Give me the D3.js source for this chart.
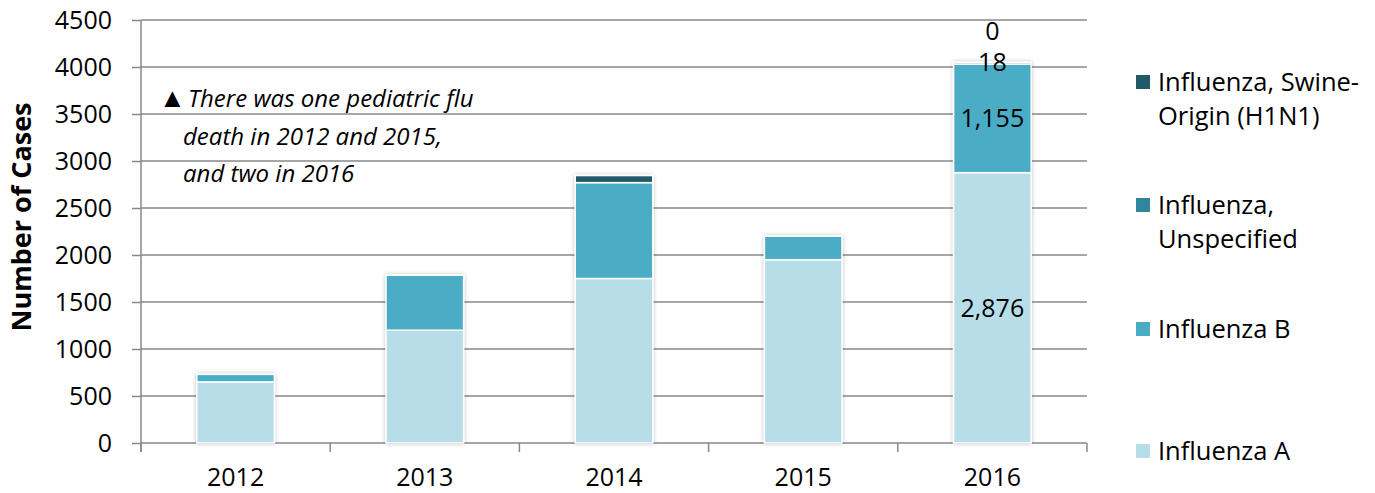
<!DOCTYPE html>
<html>
<head>
<meta charset="utf-8">
<script src="https://cdn.jsdelivr.net/npm/d3@7"></script>
<style>
  body { margin: 0; background: #fff; }
  svg { display: block; font-family: "Open Sans", sans-serif; }
</style>
</head>
<body>
<svg id="chart" width="1375" height="493"></svg>
<script>
const years = ["2012", "2013", "2014", "2015", "2016"];
const influenzaA = [650, 1200, 1750, 1950, 2876];
const influenzaB = [80, 585, 1020, 250, 1155];
const unspecified = [0, 0, 0, 0, 18];
const swineH1N1 = [0, 0, 75, 0, 0];
const yTicks = [0, 500, 1000, 1500, 2000, 2500, 3000, 3500, 4000, 4500];

const seriesNames = ["Influenza A", "Influenza B", "Influenza, Unspecified", "Influenza, Swine-Origin (H1N1)"];
const seriesColors = ["#b7dee8", "#4bacc6", "#31859c", "#215968"];
const seriesValues = [influenzaA, influenzaB, unspecified, swineH1N1];

const rows = years.map((yr, i) => {
  const r = {year: yr};
  seriesNames.forEach((n, k) => r[n] = seriesValues[k][i]);
  return r;
});

const svg = d3.select("#chart");
const plotLeft = 141, plotRight = 1087, plotTop = 20, plotBottom = 443;

const x = d3.scaleBand().domain(years).range([plotLeft, plotRight]).paddingInner(0.59).paddingOuter(0.295);
const y = d3.scaleLinear().domain([0, 4500]).range([plotBottom, plotTop]);

const defs = svg.append("defs");
defs.append("filter").attr("id", "shadow")
  .attr("x", "-20%").attr("y", "-20%").attr("width", "140%").attr("height", "140%")
  .append("feDropShadow")
  .attr("dx", 0).attr("dy", 0).attr("stdDeviation", 2)
  .attr("flood-color", "#000").attr("flood-opacity", 0.25);

// gridlines
svg.append("g")
  .selectAll("line")
  .data(yTicks.filter(d => d > 0))
  .join("line")
  .attr("x1", plotLeft).attr("x2", plotRight)
  .attr("y1", d => y(d)).attr("y2", d => y(d))
  .attr("stroke", "#888").attr("stroke-width", 1.5);

// y axis
const yAxis = svg.append("g")
  .attr("transform", `translate(${plotLeft},0)`)
  .call(d3.axisLeft(y).tickValues(yTicks).tickFormat(d3.format("d")).tickSize(9).tickPadding(20));
yAxis.select(".domain").attr("stroke", "#888").attr("stroke-width", 1.5).attr("d", `M0,${plotTop}V${plotBottom + 9}`);
yAxis.selectAll(".tick line").attr("stroke", "#888").attr("stroke-width", 1.5);
yAxis.selectAll(".tick text").attr("font-size", 25).attr("fill", "#000")
  .attr("font-family", "Open Sans, sans-serif");

// x axis
const xAxis = svg.append("g").attr("transform", `translate(0,${plotBottom})`);
xAxis.append("line").attr("x1", plotLeft).attr("x2", plotRight).attr("y1", 0).attr("y2", 0)
  .attr("stroke", "#888").attr("stroke-width", 1.5);
const boundaries = d3.range(years.length + 1).map(i => plotLeft + i * x.step());
xAxis.selectAll("line.tk").data(boundaries).join("line").attr("class", "tk")
  .attr("x1", d => d).attr("x2", d => d).attr("y1", 0).attr("y2", 9)
  .attr("stroke", "#888").attr("stroke-width", 1.5);
xAxis.selectAll("text").data(years).join("text")
  .attr("x", d => x(d) + x.bandwidth() / 2)
  .attr("y", 43)
  .attr("text-anchor", "middle")
  .attr("font-size", 25)
  .text(d => d);

// bars
const stack = d3.stack().keys(seriesNames)(rows);
const layers = svg.append("g").attr("filter", "url(#shadow)")
  .selectAll("g")
  .data(stack)
  .join("g")
  .attr("fill", (d, i) => seriesColors[i]);
layers.selectAll("rect")
  .data(d => d.filter(s => s[1] - s[0] > 0))
  .join("rect")
  .attr("x", d => x(d.data.year))
  .attr("width", x.bandwidth())
  .attr("y", d => y(d[1]))
  .attr("height", d => y(d[0]) - y(d[1]))
  .attr("stroke", "#fff").attr("stroke-width", 1.5);

// data labels for 2016
const last = years.length - 1;
const cx = x(years[last]) + x.bandwidth() / 2;
const fmt = d3.format(",");
const labels = svg.append("g").attr("font-size", 25).attr("text-anchor", "middle");
labels.append("text").attr("x", cx).attr("y", y(1430)).attr("dy", "0.35em").text(fmt(influenzaA[last]));
labels.append("text").attr("x", cx).attr("y", y(influenzaA[last] + influenzaB[last] / 2)).attr("dy", "0.35em").text(fmt(influenzaB[last]));
const topVal = influenzaA[last] + influenzaB[last] + unspecified[last];
labels.append("text").attr("x", cx).attr("y", y(topVal)).attr("dy", "0.35em").text(fmt(unspecified[last]));
labels.append("text").attr("x", cx).attr("y", y(topVal) - 31).attr("dy", "0.35em").text(fmt(swineH1N1[last]));

// y title
svg.append("text")
  .attr("transform", "translate(31,217) rotate(-90)")
  .attr("text-anchor", "middle")
  .attr("font-size", 27)
  .attr("font-weight", "bold")
  .text("Number of Cases");

// annotation
const note = svg.append("g").attr("font-size", 24).attr("font-style", "italic");
note.append("text").attr("x", 159).attr("y", 107)
  .call(t => t.append("tspan").attr("font-style", "normal").attr("font-size", 27).text("\u25B2"))
  .call(t => t.append("tspan").attr("x", 188).text("There was one pediatric flu"));
note.append("text").attr("x", 183).attr("y", 145).text("death in 2012 and 2015,");
note.append("text").attr("x", 183).attr("y", 182).text("and two in 2016");

// legend
const legendItems = [
  {lines: ["Influenza, Swine-", "Origin (H1N1)"], cy: 82, color: seriesColors[3]},
  {lines: ["Influenza,", "Unspecified"], cy: 205, color: seriesColors[2]},
  {lines: ["Influenza B"], cy: 329, color: seriesColors[1]},
  {lines: ["Influenza A"], cy: 451, color: seriesColors[0]}
];
const lg = svg.append("g").selectAll("g").data(legendItems).join("g");
lg.append("rect")
  .attr("x", 1136).attr("y", d => d.cy - 7)
  .attr("width", 14).attr("height", 14)
  .attr("fill", d => d.color);
lg.append("text")
  .attr("font-size", 25.5)
  .selectAll("tspan")
  .data(d => d.lines.map((l, i) => ({l, i, cy: d.cy})))
  .join("tspan")
  .attr("x", 1158)
  .attr("y", d => d.cy + 9 + d.i * 34)
  .text(d => d.l);
</script>
</body>
</html>
